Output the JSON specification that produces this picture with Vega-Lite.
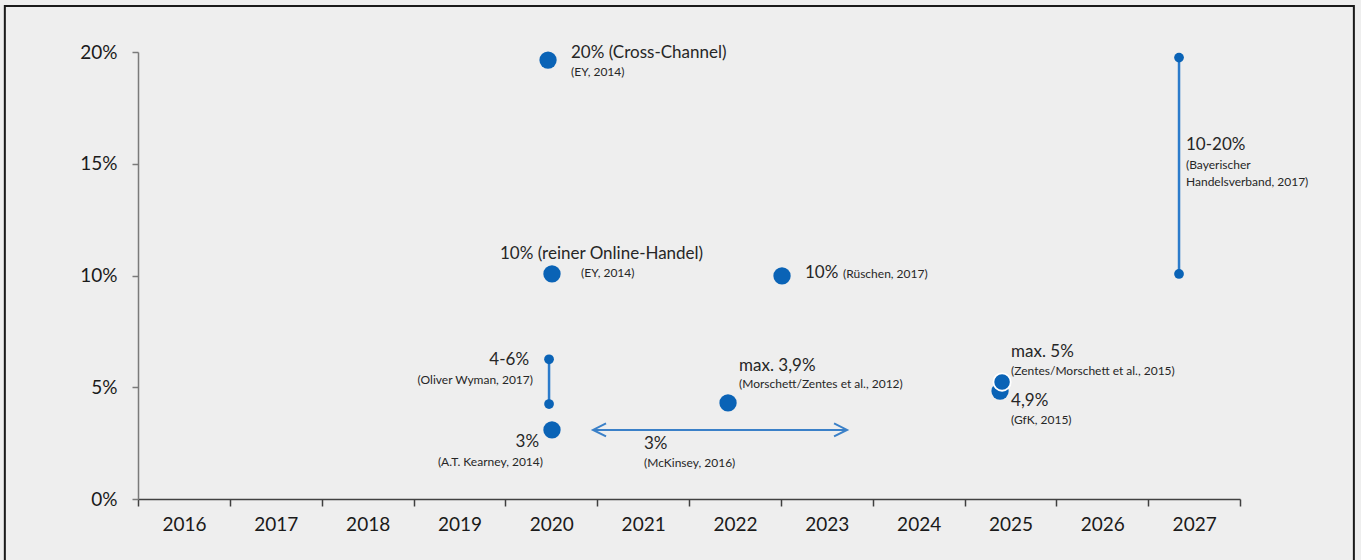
{
  "$schema": "https://vega.github.io/schema/vega-lite/v6.json",
  "width": 1102,
  "height": 447,
  "autosize": {"type": "none"},
  "padding": {"left": 138, "top": 52, "right": 121, "bottom": 61},
  "background": "#eeeeee",
  "config": {
    "view": {"stroke": null},
    "font": "Lato",
    "axis": {"grid": false}
  },
  "datasets": {
    "frame": [{"part": "frame"}],
    "estimates": [
      {"source": "EY, 2014 (Cross-Channel)", "year": 2019.965, "share": 19.64},
      {"source": "EY, 2014 (reiner Online-Handel)", "year": 2020.008, "share": 10.07},
      {"source": "Rüschen, 2017", "year": 2022.513, "share": 9.98},
      {"source": "A.T. Kearney, 2014", "year": 2020.008, "share": 3.09},
      {"source": "Morschett/Zentes et al., 2012", "year": 2021.925, "share": 4.3},
      {"source": "GfK, 2015", "year": 2024.887, "share": 4.83},
      {"source": "Zentes/Morschett et al., 2015", "year": 2024.909, "share": 5.23}
    ],
    "ranges": [
      {"source": "Oliver Wyman, 2017", "year": 2019.976, "low": 4.25, "high": 6.25},
      {"source": "Bayerischer Handelsverband, 2017", "year": 2026.836, "low": 10.07, "high": 19.75}
    ],
    "spans": [
      {"source": "McKinsey, 2016", "from": 2020.455, "to": 2023.221, "share": 3.09}
    ],
    "labels": [
      {"text": "20% (Cross-Channel)", "year": 2020.215, "share": 19.955, "kind": "value", "side": "left"},
      {"text": "(EY, 2014)", "year": 2020.215, "share": 19.105, "kind": "source", "side": "left"},
      {"text": "10% (reiner  Online-Handel)", "year": 2019.442, "share": 10.96, "kind": "value", "side": "left"},
      {"text": "(EY, 2014)", "year": 2020.324, "share": 10.11, "kind": "source", "side": "left"},
      {"text": "10%", "year": 2022.763, "share": 10.11, "kind": "value", "side": "left"},
      {"text": "(Rüschen, 2017)", "year": 2023.177, "share": 10.07, "kind": "source", "side": "left"},
      {"text": "4-6%", "year": 2019.758, "share": 6.22, "kind": "value", "side": "right"},
      {"text": "(Oliver Wyman, 2017)", "year": 2019.801, "share": 5.32, "kind": "source", "side": "right"},
      {"text": "3%", "year": 2019.867, "share": 2.55, "kind": "value", "side": "right"},
      {"text": "(A.T. Kearney, 2014)", "year": 2019.91, "share": 1.66, "kind": "source", "side": "right"},
      {"text": "3%", "year": 2021.01, "share": 2.46, "kind": "value", "side": "left"},
      {"text": "(McKinsey, 2016)", "year": 2021.01, "share": 1.61, "kind": "source", "side": "left"},
      {"text": "max. 3,9%", "year": 2022.045, "share": 5.95, "kind": "value", "side": "left"},
      {"text": "(Morschett/Zentes et al., 2012)", "year": 2022.045, "share": 5.15, "kind": "source", "side": "left"},
      {"text": "max. 5%", "year": 2025.007, "share": 6.58, "kind": "value", "side": "left"},
      {"text": "(Zentes/Morschett et al., 2015)", "year": 2025.007, "share": 5.73, "kind": "source", "side": "left"},
      {"text": "4,9%", "year": 2025.007, "share": 4.38, "kind": "value", "side": "left"},
      {"text": "(GfK, 2015)", "year": 2025.007, "share": 3.53, "kind": "source", "side": "left"},
      {"text": "10-20%", "year": 2026.912, "share": 15.84, "kind": "value", "side": "left"},
      {"text": "(Bayerischer", "year": 2026.912, "share": 14.94, "kind": "source", "side": "left"},
      {"text": "Handelsverband, 2017)", "year": 2026.912, "share": 14.18, "kind": "source", "side": "left"}
    ]
  },
  "layer": [
    {
      "data": {"name": "frame"},
      "mark": {"type": "rect", "fillOpacity": 0, "stroke": "#1a1a1a", "strokeWidth": 2, "clip": false},
      "encoding": {
        "x": {
          "datum": 2014.05,
          "type": "quantitative",
          "title": null,
          "scale": {"domain": [2015.5, 2027.5], "nice": false, "zero": false},
          "axis": {
            "values": [2015.5, 2016.5, 2017.5, 2018.5, 2019.5, 2020.5, 2021.5, 2022.5, 2023.5, 2024.5, 2025.5, 2026.5, 2027.5],
            "labelExpr": "datum.value < 2027 ? '' + (datum.value + 0.5) : ''",
            "labelOffset": 46,
            "labelAlign": "center",
            "labelFontSize": 19,
            "labelColor": "#1a1a1a",
            "labelPadding": 9,
            "labelFlush": false,
            "labelOverlap": false,
            "tickSize": 7,
            "tickColor": "#404040",
            "tickWidth": 1.5,
            "domainColor": "#404040",
            "domainWidth": 1.5
          }
        },
        "x2": {"datum": 2028.74},
        "y": {
          "datum": 22.06,
          "type": "quantitative",
          "title": null,
          "scale": {"domain": [0, 20], "nice": false, "zero": true},
          "axis": {
            "values": [0, 5, 10, 15, 20],
            "labelExpr": "datum.value + '%'",
            "labelFontSize": 19,
            "labelColor": "#1a1a1a",
            "labelPadding": 15,
            "tickSize": 6,
            "tickColor": "#7a7a7a",
            "tickWidth": 1.5,
            "domainColor": "#7a7a7a",
            "domainWidth": 1.5
          }
        },
        "y2": {"datum": -3.6}
      }
    },
    {
      "data": {"name": "ranges"},
      "mark": {"type": "rule", "color": "#2b7bcb", "strokeWidth": 2.5},
      "encoding": {
        "x": {"field": "year", "type": "quantitative", "title": null},
        "y": {"field": "low", "type": "quantitative", "title": null},
        "y2": {"field": "high"}
      }
    },
    {
      "data": {"name": "ranges"},
      "mark": {"type": "circle", "color": "#0a63b6", "opacity": 1, "size": 95},
      "encoding": {
        "x": {"field": "year", "type": "quantitative", "title": null},
        "y": {"field": "low", "type": "quantitative", "title": null}
      }
    },
    {
      "data": {"name": "ranges"},
      "mark": {"type": "circle", "color": "#0a63b6", "opacity": 1, "size": 95},
      "encoding": {
        "x": {"field": "year", "type": "quantitative", "title": null},
        "y": {"field": "high", "type": "quantitative", "title": null}
      }
    },
    {
      "data": {"name": "spans"},
      "mark": {"type": "rule", "color": "#3a80c8", "strokeWidth": 2},
      "encoding": {
        "x": {"field": "from", "type": "quantitative", "title": null},
        "x2": {"field": "to"},
        "y": {"field": "share", "type": "quantitative", "title": null}
      }
    },
    {
      "data": {"name": "spans"},
      "mark": {"type": "point", "shape": "M2,-1L0,0L2,1", "filled": false, "color": "#3a80c8", "strokeWidth": 2, "size": 169, "opacity": 1},
      "encoding": {
        "x": {"field": "from", "type": "quantitative", "title": null},
        "y": {"field": "share", "type": "quantitative", "title": null}
      }
    },
    {
      "data": {"name": "spans"},
      "mark": {"type": "point", "shape": "M-2,-1L0,0L-2,1", "filled": false, "color": "#3a80c8", "strokeWidth": 2, "size": 169, "opacity": 1},
      "encoding": {
        "x": {"field": "to", "type": "quantitative", "title": null},
        "y": {"field": "share", "type": "quantitative", "title": null}
      }
    },
    {
      "data": {"name": "estimates"},
      "mark": {"type": "circle", "fill": "#0a63b6", "stroke": "#ffffff", "opacity": 1, "size": 300},
      "encoding": {
        "x": {"field": "year", "type": "quantitative", "title": null},
        "y": {"field": "share", "type": "quantitative", "title": null},
        "strokeWidth": {
          "condition": {"test": "datum.source === 'Zentes/Morschett et al., 2015'", "value": 1.8},
          "value": 0
        }
      }
    },
    {
      "data": {"name": "labels"},
      "transform": [{"filter": "datum.kind === 'value' && datum.side === 'left'"}],
      "mark": {"type": "text", "align": "left", "baseline": "middle", "fontSize": 17, "color": "#262626"},
      "encoding": {
        "x": {"field": "year", "type": "quantitative", "title": null},
        "y": {"field": "share", "type": "quantitative", "title": null},
        "text": {"field": "text"}
      }
    },
    {
      "data": {"name": "labels"},
      "transform": [{"filter": "datum.kind === 'value' && datum.side === 'right'"}],
      "mark": {"type": "text", "align": "right", "baseline": "middle", "fontSize": 17, "color": "#262626"},
      "encoding": {
        "x": {"field": "year", "type": "quantitative", "title": null},
        "y": {"field": "share", "type": "quantitative", "title": null},
        "text": {"field": "text"}
      }
    },
    {
      "data": {"name": "labels"},
      "transform": [{"filter": "datum.kind === 'source' && datum.side === 'left'"}],
      "mark": {"type": "text", "align": "left", "baseline": "middle", "fontSize": 12, "color": "#262626"},
      "encoding": {
        "x": {"field": "year", "type": "quantitative", "title": null},
        "y": {"field": "share", "type": "quantitative", "title": null},
        "text": {"field": "text"}
      }
    },
    {
      "data": {"name": "labels"},
      "transform": [{"filter": "datum.kind === 'source' && datum.side === 'right'"}],
      "mark": {"type": "text", "align": "right", "baseline": "middle", "fontSize": 12, "color": "#262626"},
      "encoding": {
        "x": {"field": "year", "type": "quantitative", "title": null},
        "y": {"field": "share", "type": "quantitative", "title": null},
        "text": {"field": "text"}
      }
    }
  ]
}
